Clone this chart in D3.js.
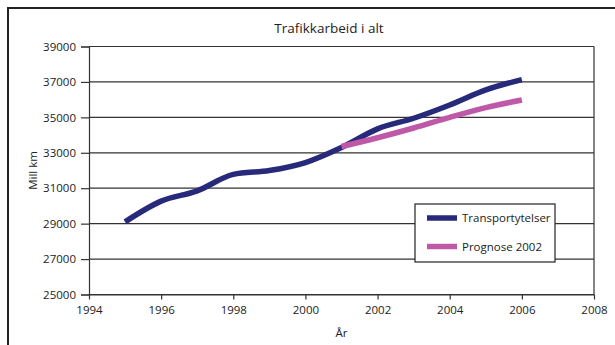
<!DOCTYPE html>
<html>
<head>
<meta charset="utf-8">
<script src="https://cdn.jsdelivr.net/npm/d3@7"></script>
<style>
  html, body { margin: 0; padding: 0; background: #fff; }
  svg { display: block; font-family: "Open Sans", "Noto Sans", sans-serif; }
</style>
</head>
<body>
<svg id="chart" width="615" height="345"></svg>
<script>
// Traffic volume (million km), observed series
const yearsObserved = [1995, 1996, 1997, 1998, 1999, 2000, 2001, 2002, 2003, 2004, 2005, 2006];
const transportytelser = [29100, 30270, 30850, 31780, 32000, 32450, 33300, 34350, 34950, 35700, 36550, 37130];

// Forecast from 2002
const yearsForecast = [2001, 2002, 2003, 2004, 2005, 2006];
const prognose2002 = [33350, 33850, 34400, 35000, 35550, 35980];

const xTicks = [1994, 1996, 1998, 2000, 2002, 2004, 2006, 2008];
const yTicks = [25000, 27000, 29000, 31000, 33000, 35000, 37000, 39000];

const seriesNames = ["Transportytelser", "Prognose 2002"];
const seriesColors = ["#27297a", "#c058a8"];

const svg = d3.select("#chart");
const W = 615, H = 345;
const plot = { left: 89, right: 594, top: 46.5, bottom: 294.5 };

// outer frame (top and left edges visible)
svg.append("path")
  .attr("d", `M8,${H} L8,8 L${W},8`)
  .attr("fill", "none").attr("stroke", "#222").attr("stroke-width", 2);

const x = d3.scaleLinear().domain([1994, 2008]).range([plot.left, plot.right]);
const y = d3.scaleLinear().domain([25000, 39000]).range([plot.bottom, plot.top]);

// horizontal gridlines
svg.append("g")
  .selectAll("line").data(yTicks).join("line")
  .attr("x1", plot.left).attr("x2", plot.right)
  .attr("y1", d => y(d)).attr("y2", d => y(d))
  .attr("stroke", "#333").attr("stroke-width", 1.2);

// right border of plot area
svg.append("line")
  .attr("x1", plot.right).attr("x2", plot.right)
  .attr("y1", plot.top).attr("y2", plot.bottom)
  .attr("stroke", "#333").attr("stroke-width", 1.2);

// y axis
const yAxis = svg.append("g")
  .attr("transform", `translate(${plot.left},0)`)
  .call(d3.axisLeft(y).tickValues(yTicks).tickFormat(d3.format("d")).tickSize(8).tickPadding(5));
yAxis.select(".domain").attr("stroke", "#333").attr("stroke-width", 1.2);
yAxis.selectAll(".tick line").attr("stroke", "#333").attr("stroke-width", 1.2);
yAxis.selectAll("text").attr("font-size", 11.5).attr("fill", "#222")
  .attr("font-family", "'Open Sans', sans-serif");

// x axis
const xAxis = svg.append("g")
  .attr("transform", `translate(0,${plot.bottom})`)
  .call(d3.axisBottom(x).tickValues(xTicks).tickFormat(d3.format("d")).tickSizeInner(5).tickSizeOuter(0).tickPadding(6));
xAxis.select(".domain").attr("stroke", "#333").attr("stroke-width", 1.2);
xAxis.selectAll(".tick line").attr("stroke", "#333").attr("stroke-width", 1.2);
xAxis.selectAll("text").attr("font-size", 11.5).attr("fill", "#222")
  .attr("font-family", "'Open Sans', sans-serif");

// series lines
const line = d3.line().x(d => x(d[0])).y(d => y(d[1])).curve(d3.curveMonotoneX);
svg.append("path")
  .datum(d3.zip(yearsObserved, transportytelser))
  .attr("d", line).attr("fill", "none")
  .attr("stroke", seriesColors[0]).attr("stroke-width", 5.5)
  .attr("stroke-linejoin", "round");
svg.append("path")
  .datum(d3.zip(yearsForecast, prognose2002))
  .attr("d", line).attr("fill", "none")
  .attr("stroke", seriesColors[1]).attr("stroke-width", 5.5)
  .attr("stroke-linejoin", "round");

// title and axis titles
svg.append("text").attr("x", 329).attr("y", 33).attr("text-anchor", "middle")
  .attr("font-size", 13.5).attr("fill", "#222").text("Trafikkarbeid i alt");
svg.append("text").attr("x", x(2001)).attr("y", 337).attr("text-anchor", "middle")
  .attr("font-size", 11.5).attr("fill", "#222").text("År");
svg.append("text").attr("transform", `translate(37,${(plot.top + plot.bottom) / 2}) rotate(-90)`)
  .attr("text-anchor", "middle").attr("font-size", 11.5).attr("fill", "#222").text("Mill km");

// legend
const lg = svg.append("g").attr("transform", "translate(415,204)");
lg.append("rect").attr("width", 140).attr("height", 58)
  .attr("fill", "#fff").attr("stroke", "#222").attr("stroke-width", 1.2);
seriesNames.forEach((name, i) => {
  const cy = 14 + i * 28.5;
  lg.append("line").attr("x1", 12).attr("x2", 42).attr("y1", cy).attr("y2", cy)
    .attr("stroke", seriesColors[i]).attr("stroke-width", 5.5);
  lg.append("text").attr("x", 47).attr("y", cy + 4).attr("font-size", 11.5)
    .attr("fill", "#222").text(name);
});
</script>
</body>
</html>
